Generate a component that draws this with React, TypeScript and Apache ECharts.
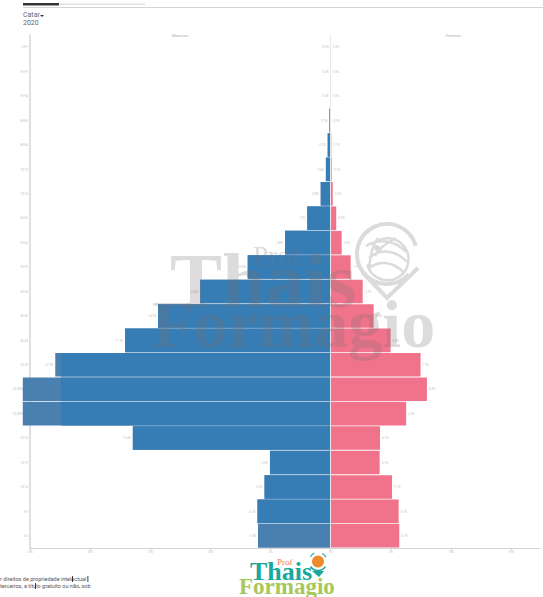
import React, { useEffect, useRef } from "react";
import * as echarts from "echarts";

const ages = ["0-4","5-9","10-14","15-19","20-24","25-29","30-34","35-39","40-44","45-49","50-54","55-59","60-64","65-69","70-74","75-79","80-84","85-89","90-94","95-99","100+"];
const maleTotal = [6.04,6.09,5.5,5.05,16.45,25.6,25.6,22.9,17.1,14.35,10.85,6.9,3.8,1.95,0.83,0.4,0.25,0.1,0.03,0.01,0];
const maleCore = [6.04,6.09,5.5,5.05,16.45,22.43,22.43,22.43,17.1,14.35,10.85,6.9,3.8,1.95,0.83,0.4,0.25,0.1,0.03,0.01,0];
const female = [5.7,5.65,5.1,4.07,4.1,6.27,8.0,7.47,4.98,3.57,2.66,1.66,0.91,0.46,0.17,0.08,0.05,0.025,0.01,0,0];
const titleText = "Catar";
const yearText = "2020";
const maleName = "Masculino";
const femaleName = "Feminino";
const footer = ["r direitos de propriedade intelectual", "terceiros, a título gratuito ou não, sob"];
const xTicks = { min: -25, max: 17.4, interval: 5 };

const BLUE = "#377db5";
const BLUE_LIGHT = "#4a80b0";
const PINK = "#f0738b";
const SANS = "Roboto, 'Open Sans', sans-serif";
const SERIF = "'Liberation Serif', serif";
const WM = "rgba(120,110,110,0.25)";
const TINY = "#c4c4c4";

const pct = (v: number) => Math.abs(v).toFixed(1) + "%";

export default function App() {
  const ref = useRef<HTMLDivElement>(null);
  useEffect(() => {
    const globe = "M 373 244 A 21 21 0 1 1 368 267 M 366 246 C 378 238 395 240 406 252 M 369 258 C 380 248 396 250 407 262 M 369 268 C 380 260 394 262 403 272 M 378 238 C 372 245 371 255 369 267 M 396 238 C 386 243 378 250 375 256";
    echarts.graphic.registerShape("wmGlobe", echarts.graphic.extendPath(globe, {}));
    const chart = echarts.init(ref.current!, null, { renderer: "svg" });
    const label = (position: string) => ({
      show: true,
      position,
      distance: 2,
      fontSize: 3,
      color: TINY,
      fontFamily: SANS,
      formatter: (p: any) => pct(p.value?.value ?? p.value),
    });
    chart.setOption({
      animation: false,
      backgroundColor: "#fff",
      grid: { left: 30, right: 3, top: 35, bottom: 49 },
      xAxis: {
        type: "value",
        min: xTicks.min,
        max: xTicks.max,
        interval: xTicks.interval,
        splitLine: { show: false },
        axisLine: { show: true, onZero: false, lineStyle: { color: "#d4d4d4", width: 1 } },
        axisTick: { show: true, length: 2, lineStyle: { color: "#ccc" } },
        axisLabel: {
          fontSize: 3,
          color: TINY,
          margin: 2,
          fontFamily: SANS,
          showMaxLabel: false,
          formatter: (v: number) => (Math.abs(v) % 5 === 0 ? Math.abs(v) + "%" : ""),
        },
      },
      yAxis: {
        type: "category",
        data: ages,
        axisLine: { show: true, onZero: false, lineStyle: { color: "#d4d4d4", width: 1.5 } },
        axisTick: { show: false },
        axisLabel: { fontSize: 3, color: TINY, margin: 2, fontFamily: SANS },
      },
      series: [
        {
          type: "bar",
          name: maleName + " total",
          data: maleTotal.map((v) => -v),
          clip: false,
          barCategoryGap: "3.5%",
          barGap: "-100%",
          itemStyle: { color: BLUE_LIGHT },
          label: label("left"),
          z: 2,
          markLine: {
            silent: true,
            symbol: "none",
            label: { show: false },
            lineStyle: { color: "#e8e8e8", width: 1, type: "solid" },
            data: [{ xAxis: 0 }],
          },
        },
        {
          type: "bar",
          name: maleName,
          data: maleCore.map((v, i) => ({ value: -v, itemStyle: { color: i === 0 ? BLUE_LIGHT : BLUE } })),
          barGap: "-100%",
          z: 3,
        },
        {
          type: "bar",
          name: femaleName,
          data: female.map((v) => v),
          barGap: "-100%",
          itemStyle: { color: PINK },
          label: label("right"),
          z: 3,
        },
      ],
      graphic: [
        { type: "rect", z: 50, shape: { x: 23, y: 3, width: 36, height: 2.5 }, style: { fill: "#333" } },
        { type: "rect", z: 50, shape: { x: 60, y: 3.5, width: 85, height: 1.5 }, style: { fill: "#e0e0e0" } },
        { type: "rect", z: 50, shape: { x: 23, y: 7, width: 520, height: 1 }, style: { fill: "#d4d4d4" } },
        { type: "text", z: 50, x: 23, y: 11.5, style: { text: titleText, fontSize: 7, fontFamily: SANS, fill: "#666" } },
        { type: "polygon", z: 50, shape: { points: [[40, 15], [44, 15], [42, 17]] }, style: { fill: "#333" } },
        { type: "text", z: 50, x: 23, y: 19, style: { text: yearText, fontSize: 7, fontFamily: SANS, fill: "#666" } },
        { type: "text", z: 50, x: 172, y: 34, style: { text: maleName, fontSize: 3.5, fontFamily: SANS, fill: "#aaa" } },
        { type: "text", z: 50, x: 446, y: 34, style: { text: femaleName, fontSize: 3.5, fontFamily: SANS, fill: "#aaa" } },

        // watermark
        { type: "text", z: 40, x: 253, y: 242, style: { text: "Prof", fontSize: 27, fontFamily: SERIF, fill: WM } },
        { type: "text", z: 40, x: 170, y: 241, style: { text: "Thais", fontSize: 78, fontWeight: "bold", fontFamily: SERIF, fill: WM } },
        { type: "text", z: 40, x: 152, y: 290, style: { text: "Formagio", fontSize: 68, fontWeight: "bold", fontFamily: SERIF, fill: WM } },
        { type: "arc", z: 40, shape: { cx: 387, cy: 254, r: 30, startAngle: 0.75, endAngle: 6.0 }, style: { stroke: "#dcdada", lineWidth: 4, fill: "none" } },
        { type: "polyline", z: 40, shape: { points: [[362, 272], [387, 298], [418, 268]] }, style: { stroke: "#dcdada", lineWidth: 4, fill: "none" } },
        { type: "wmGlobe", z: 40, style: { stroke: "#dcdada", lineWidth: 2.5, fill: "none" } },
        { type: "circle", z: 40, shape: { cx: 377, cy: 248, r: 3 }, style: { fill: "#dcdada" } },
        { type: "circle", z: 40, shape: { cx: 369, cy: 266, r: 2.5 }, style: { fill: "#dcdada" } },

        // footer
        { type: "text", z: 50, x: 0, y: 576, style: { text: footer[0], fontSize: 5.5, fontFamily: SANS, fill: "#555" } },
        { type: "text", z: 50, x: 0, y: 583, style: { text: footer[1], fontSize: 5.5, fontFamily: SANS, fill: "#555" } },
        { type: "rect", z: 51, shape: { x: 72, y: 576, width: 0.8, height: 6 }, style: { fill: "#111" } },
        { type: "rect", z: 51, shape: { x: 87.5, y: 576, width: 0.8, height: 6 }, style: { fill: "#111" } },
        { type: "rect", z: 51, shape: { x: 35, y: 583, width: 0.8, height: 6 }, style: { fill: "#111" } },

        // bottom logo
        { type: "text", z: 50, x: 277, y: 557, style: { text: "Prof", fontSize: 9, fontFamily: SERIF, fill: "#ea7a5c" } },
        { type: "text", z: 50, x: 250, y: 558, style: { text: "Thais", fontSize: 26, fontWeight: "bold", fontFamily: SERIF, fill: "#1aa79c" } },
        { type: "text", z: 50, x: 239, y: 575, style: { text: "Formagio", fontSize: 23, fontWeight: "bold", fontFamily: SERIF, fill: "#a6c85a" } },
        { type: "circle", z: 50, shape: { cx: 318, cy: 561.5, r: 6 }, style: { fill: "#ee8a2e" } },
        { type: "arc", z: 50, shape: { cx: 318, cy: 561.5, r: 9, startAngle: 0.6, endAngle: 2.55 }, style: { stroke: "#1aa79c", lineWidth: 1.5, fill: "none" } },
        { type: "arc", z: 50, shape: { cx: 318, cy: 561.5, r: 9, startAngle: 3.7, endAngle: 4.3 }, style: { stroke: "#1aa79c", lineWidth: 1.2, fill: "none" } },
        { type: "arc", z: 50, shape: { cx: 318, cy: 561.5, r: 9, startAngle: 5.2, endAngle: 5.8 }, style: { stroke: "#1aa79c", lineWidth: 1.2, fill: "none" } },
        { type: "polygon", z: 50, shape: { points: [[312, 571], [324, 571], [319, 577]] }, style: { fill: "#1aa79c" } },
      ],
    });
    return () => chart.dispose();
  }, []);
  return <div ref={ref} style={{ position: "fixed", left: 0, top: 0, width: 543, height: 597 }} />;
}
